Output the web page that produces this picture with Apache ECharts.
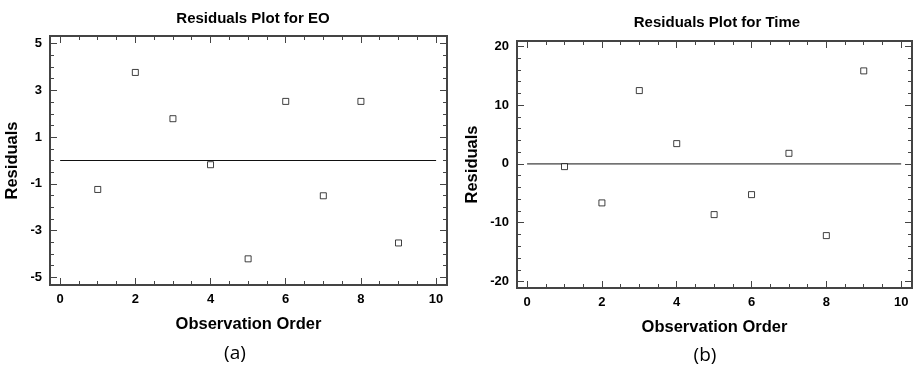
<!DOCTYPE html>
<html>
<head>
<meta charset="utf-8">
<script src="https://cdn.jsdelivr.net/npm/echarts@6/dist/echarts.min.js"></script>
<style>
  html, body { margin: 0; padding: 0; background: #fff; }
  #chart { width: 915px; height: 367px; }
</style>
</head>
<body>
<div id="chart"></div>
<script>
// observation order (x) and residuals
const observation = [1, 2, 3, 4, 5, 6, 7, 8, 9];
const eoResiduals = [-1.24, 3.77, 1.79, -0.18, -4.21, 2.53, -1.51, 2.53, -3.53];
const timeResiduals = [-0.46, -6.63, 12.47, 3.45, -8.62, -5.22, 1.80, -12.19, 15.82];

// reference line at zero, from x = 0 to x = 10
const zeroLineX = [0, 10];

// tick labels
const xTicks = [0, 2, 4, 6, 8, 10];
const eoTicks = [-5, -3, -1, 1, 3, 5];
const timeTicks = [-20, -10, 0, 10, 20];

const FONT = '"Liberation Sans", Arial, sans-serif';
const FRAME = '#444';

function steps(from, to, step) {
  const out = [];
  for (let v = from; v <= to + 1e-9; v += step) out.push(+v.toFixed(4));
  return out;
}

// one axis of the frame; major ones are longer, the bottom/left major carries labels
function axis(gridIndex, position, min, max, ticks, len, labelled, extra) {
  return Object.assign({
    type: 'value',
    gridIndex,
    position,
    min,
    max,
    axisLine: { show: false, onZero: false },
    splitLine: { show: false },
    axisTick: {
      show: true,
      inside: true,
      length: len,
      customValues: ticks,
      lineStyle: { color: FRAME, width: 1 }
    },
    axisLabel: labelled ? {
      show: true,
      customValues: ticks,
      fontFamily: FONT,
      fontWeight: 'bold',
      fontSize: 13,
      color: '#000',
      margin: 8
    } : { show: false }
  }, extra || {});
}

function nameStyle() {
  return { fontFamily: FONT, fontWeight: 'bold', fontSize: 16.5, color: '#000' };
}

const xMin = -0.27, xMax = 10.29;
const eoMin = -5.33, eoMax = 5.33;
const tMin = -21.1, tMax = 20.9;

const xMinor = steps(0, 10, 0.5);
const eoMinor = steps(-5, 5, 0.5);
const tMinor = steps(-20, 20, 2);

const xAxes = [], yAxes = [];
[0, 1].forEach(g => {
  xAxes.push(axis(g, 'bottom', xMin, xMax, xTicks, 7, true, {
    name: 'Observation Order', nameLocation: 'middle', nameGap: 31, nameTextStyle: nameStyle()
  }));
  xAxes.push(axis(g, 'bottom', xMin, xMax, xMinor, 4, false));
  xAxes.push(axis(g, 'top', xMin, xMax, xTicks, 7, false));
  xAxes.push(axis(g, 'top', xMin, xMax, xMinor, 4, false));
});

yAxes.push(axis(0, 'left', eoMin, eoMax, eoTicks, 7, true, {
  name: 'Residuals', nameLocation: 'middle', nameGap: 29, nameTextStyle: nameStyle()
}));
yAxes.push(axis(0, 'left', eoMin, eoMax, eoMinor, 4, false));
yAxes.push(axis(0, 'right', eoMin, eoMax, eoTicks, 7, false));
yAxes.push(axis(0, 'right', eoMin, eoMax, eoMinor, 4, false));

yAxes.push(axis(1, 'left', tMin, tMax, timeTicks, 7, true, {
  name: 'Residuals', nameLocation: 'middle', nameGap: 36, nameTextStyle: nameStyle()
}));
yAxes.push(axis(1, 'left', tMin, tMax, tMinor, 4, false));
yAxes.push(axis(1, 'right', tMin, tMax, timeTicks, 7, false));
yAxes.push(axis(1, 'right', tMin, tMax, tMinor, 4, false));

function points(ys) {
  return observation.map((x, i) => [x, ys[i]]);
}

const marker = {
  type: 'scatter',
  symbol: 'rect',
  symbolSize: 6,
  itemStyle: { color: '#fff', borderColor: '#111', borderWidth: 1 },
  silent: true,
  z: 5
};

const zeroLine = {
  type: 'line',
  symbol: 'none',
  lineStyle: { color: '#111', width: 1 },
  silent: true,
  z: 4
};

const chart = echarts.init(document.getElementById('chart'), null, { renderer: 'canvas' });

chart.setOption({
  animation: false,
  backgroundColor: '#fff',
  title: [
    {
      text: 'Residuals Plot for EO', left: 248, top: 6, textAlign: 'center',
      textStyle: { fontFamily: FONT, fontWeight: 'bold', fontSize: 15, color: '#000' }
    },
    {
      text: 'Residuals Plot for Time', left: 712, top: 10, textAlign: 'center',
      textStyle: { fontFamily: FONT, fontWeight: 'bold', fontSize: 15, color: '#000' }
    },
    {
      text: '(a)', left: 230, top: 339, textAlign: 'center',
      textStyle: { fontFamily: '"Open Sans", sans-serif', fontWeight: 'normal', fontSize: 19, color: '#000' }
    },
    {
      text: '(b)', left: 700, top: 341, textAlign: 'center',
      textStyle: { fontFamily: '"Open Sans", sans-serif', fontWeight: 'normal', fontSize: 19, color: '#000' }
    }
  ],
  grid: [
    { left: 50, top: 36, width: 397, height: 249, show: true, borderColor: FRAME, borderWidth: 2, backgroundColor: 'transparent' },
    { left: 517, top: 41, width: 395, height: 247, show: true, borderColor: FRAME, borderWidth: 2, backgroundColor: 'transparent' }
  ],
  xAxis: xAxes,
  yAxis: yAxes,
  series: [
    Object.assign({}, zeroLine, { xAxisIndex: 0, yAxisIndex: 0, data: zeroLineX.map(x => [x, 0]) }),
    Object.assign({}, marker, { xAxisIndex: 0, yAxisIndex: 0, data: points(eoResiduals) }),
    Object.assign({}, zeroLine, { xAxisIndex: 4, yAxisIndex: 4, data: zeroLineX.map(x => [x, 0]) }),
    Object.assign({}, marker, { xAxisIndex: 4, yAxisIndex: 4, data: points(timeResiduals) })
  ]
});
</script>
</body>
</html>
